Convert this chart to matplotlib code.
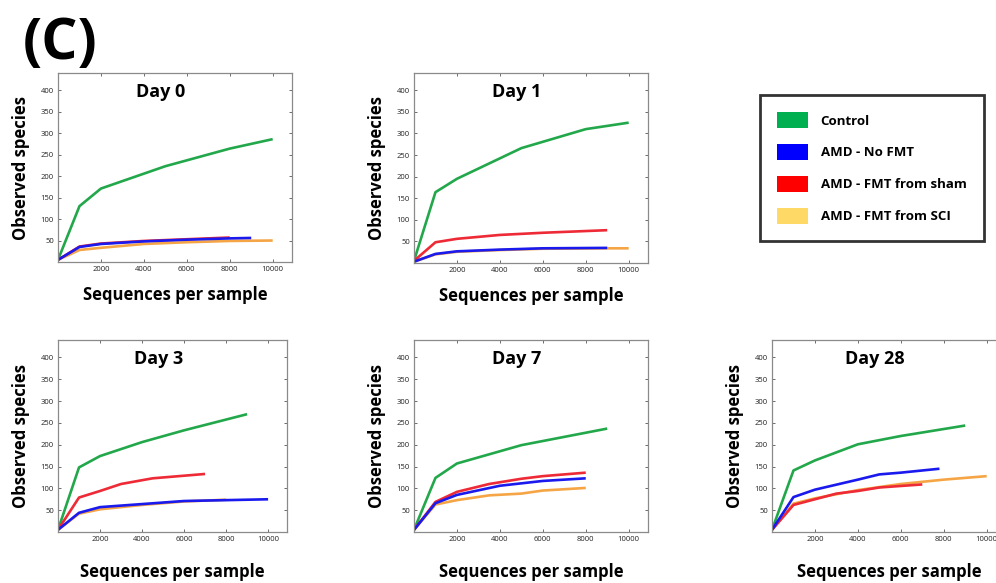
import matplotlib.pyplot as plt
from matplotlib.patches import Patch

plt.rcParams['font.family'] = ['Open Sans', 'DejaVu Sans']

groups = ['Control', 'AMD - No FMT', 'AMD - FMT from sham', 'AMD - FMT from SCI']
line_colors = ['#22a84a', '#1a1aee', '#ee2a36', '#f5a545']
legend_colors = ['#00b050', '#0000ff', '#ff0000', '#ffd966']
days = ['Day 0', 'Day 1', 'Day 3', 'Day 7', 'Day 28']

# rarefaction curves: (sequences per sample, observed species) per group and day
day0_x = [[0, 1000, 2000, 5000, 8000, 10000],
          [0, 1000, 2000, 4000, 6000, 8000, 9000],
          [0, 1000, 2000, 4000, 6000, 8000],
          [0, 1000, 2000, 4000, 6000, 8000, 10000]]
day0_y = [[5, 130, 171, 223, 264, 286],
          [5, 35, 42, 48, 52, 55, 56],
          [5, 36, 43, 49, 53, 57],
          [5, 28, 33, 42, 46, 49, 50]]

day1_x = [[0, 1000, 2000, 5000, 8000, 10000],
          [0, 1000, 2000, 4000, 6000, 9000],
          [0, 1000, 2000, 4000, 6000, 9000],
          [0, 1000, 2000, 4000, 6000, 9000, 10000]]
day1_y = [[5, 164, 195, 266, 310, 325],
          [3, 21, 27, 31, 34, 35],
          [5, 48, 56, 65, 70, 76],
          [3, 20, 26, 30, 33, 34, 34]]

day3_x = [[0, 1000, 2000, 4000, 6000, 9000],
          [0, 1000, 2000, 4000, 6000, 10000],
          [0, 1000, 2000, 3000, 4500, 7000],
          [0, 1000, 2000, 4000, 6000, 8000]]
day3_y = [[5, 148, 174, 206, 233, 270],
          [5, 44, 57, 64, 71, 75],
          [5, 79, 94, 110, 123, 133],
          [5, 42, 52, 62, 70, 74]]

day7_x = [[0, 1000, 2000, 5000, 9000],
          [0, 1000, 2000, 4000, 6000, 8000],
          [0, 1000, 2000, 3500, 5000, 6000, 8000],
          [0, 1000, 2000, 3500, 5000, 6000, 8000]]
day7_y = [[5, 124, 157, 199, 237],
          [5, 66, 85, 106, 117, 123],
          [5, 69, 92, 110, 122, 128, 136],
          [5, 63, 73, 84, 88, 95, 101]]

day28_x = [[0, 1000, 2000, 4000, 6000, 9000],
           [0, 1000, 2000, 4000, 5000, 6000, 7800],
           [0, 1000, 2000, 3000, 4000, 5000, 7000],
           [0, 1000, 2000, 4000, 6000, 8000, 10000]]
day28_y = [[5, 141, 164, 201, 220, 244],
           [5, 80, 97, 120, 132, 136, 145],
           [5, 62, 75, 88, 94, 102, 109],
           [5, 65, 77, 96, 110, 120, 128]]

all_x = [day0_x, day1_x, day3_x, day7_x, day28_x]
all_y = [day0_y, day1_y, day3_y, day7_y, day28_y]

# axes rectangles in pixels: left, top, width, height
W, H = 996, 583
boxes = [(58, 73, 234, 189), (414, 73, 234, 190),
         (58, 340, 229, 192), (414, 340, 234, 192), (772, 340, 234, 192)]

fig = plt.figure(figsize=(W / 100, H / 100), dpi=100)
fig.text(60 / W, 1 - 44 / H, '(C)', fontsize=41, fontweight='bold',
         ha='center', va='center')

# draw order so that blue / red sit on top like the original
order = [0, 3, 2, 1]
for k, (day, xs, ys, b) in enumerate(zip(days, all_x, all_y, boxes)):
    l, t, w, h = b
    ax = fig.add_axes([l / W, 1 - (t + h) / H, w / W, h / H])
    for g in order:
        ax.plot(xs[g], ys[g], color=line_colors[g], lw=1.9, solid_capstyle='butt')
    ax.set_xlim(0, 10900)
    ax.set_ylim(0, 440)
    ax.set_xticks([2000, 4000, 6000, 8000, 10000])
    ax.set_yticks([50, 100, 150, 200, 250, 300, 350, 400])
    ax.tick_params(direction='in', top=True, right=True, length=2.5, width=0.6,
                   labelsize=5.5, colors='#555555', labelcolor='#222222', pad=3)
    for s in ax.spines.values():
        s.set_color('#8a8a8a')
        s.set_linewidth(0.9)
    ax.text(0.44, 0.9, day, transform=ax.transAxes, ha='center', va='center',
            fontsize=13, fontweight='bold')
    ax.set_ylabel('Observed species', fontsize=12, fontweight='bold')
    ax.set_xlabel('Sequences per sample', fontsize=12, fontweight='bold', va='center')
    ax.yaxis.set_label_coords(-28 / w, 0.5)
    if t < 200:
        ax.xaxis.set_label_coords(0.5, -33 / h)
    else:
        ax.xaxis.set_label_coords(0.5, -40 / h)

handles = [Patch(facecolor=c, edgecolor='none') for c in legend_colors]
leg = fig.legend(handles, groups, loc='upper left',
                 bbox_to_anchor=(760 / W, 1 - 95 / H),
                 prop={'weight': 'bold', 'size': 9.5},
                 handlelength=2.3, handleheight=1.5, labelspacing=1.2,
                 handletextpad=1.0, borderpad=1.3, borderaxespad=0,
                 fancybox=False, frameon=True)
leg.get_frame().set_edgecolor('black')
leg.get_frame().set_linewidth(2)

fig.savefig('out.png', dpi=100)
